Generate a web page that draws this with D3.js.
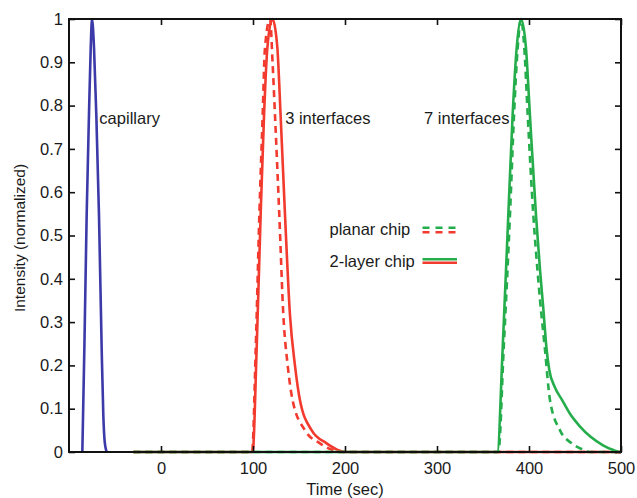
<!DOCTYPE html>
<html>
<head>
<meta charset="utf-8">
<script src="https://cdn.jsdelivr.net/npm/d3@7/dist/d3.min.js"></script>
<style>
  html, body { margin: 0; padding: 0; background: #fff; }
  svg { display: block; }
  text { font-family: "Liberation Sans", Arial, Helvetica, sans-serif; fill: #1a1a1a; }
</style>
</head>
<body>
<svg id="chart" width="637" height="498"></svg>
<script>
// ---- data ----
const xTicks = [0, 100, 200, 300, 400, 500];
const yTicks = [0, 0.1, 0.2, 0.3, 0.4, 0.5, 0.6, 0.7, 0.8, 0.9, 1];
const yTickLabels = ["0", "0.1", "0.2", "0.3", "0.4", "0.5", "0.6", "0.7", "0.8", "0.9", "1"];

const capillaryTime  = [-85.5, -83.3, -80.8, -78.3, -76.4, -75, -72.8, -70.3, -67.4, -64.5, -62.7, -61.2, -59];
const capillaryValue = [0, 0.24, 0.547, 0.778, 0.933, 1, 0.933, 0.778, 0.547, 0.24, 0.085, 0.024, 0];

const red2LayerTime  = [-30, 99.6, 104, 108.3, 112, 115.6, 121, 125, 126.5, 130, 134.8, 140.2, 145.6, 151, 163.8, 180, 192, 200, 500];
const red2LayerValue = [0, 0, 0.24, 0.547, 0.778, 0.933, 1, 0.965, 0.933, 0.778, 0.547, 0.316, 0.2, 0.12, 0.05, 0.02, 0.005, 0, 0];

const redPlanarTime  = [-30, 99, 103, 106.9, 110.5, 113, 118.5, 121.4, 123.9, 128.6, 133, 137.7, 143, 156.5, 172.8, 186, 195, 500];
const redPlanarValue = [0, 0, 0.24, 0.547, 0.778, 0.933, 1, 0.894, 0.778, 0.547, 0.316, 0.2, 0.12, 0.05, 0.02, 0.005, 0, 0];

const green2LayerTime  = [-30, 365.6, 371.4, 377.5, 382.2, 386.6, 391.3, 396.7, 401, 407.6, 412, 415.6, 419, 422, 428, 436, 444, 455, 467, 480, 491, 499, 500];
const green2LayerValue = [0, 0, 0.24, 0.547, 0.778, 0.933, 1, 0.933, 0.778, 0.547, 0.42, 0.33, 0.24, 0.19, 0.15, 0.12, 0.09, 0.06, 0.035, 0.016, 0.005, 0, 0];

const greenPlanarTime  = [-30, 366.7, 372.5, 379.3, 383.7, 387.7, 391.3, 394.9, 398.6, 404.7, 410, 412, 417.4, 422.8, 433.7, 446.4, 456, 466, 500];
const greenPlanarValue = [0, 0, 0.24, 0.547, 0.778, 0.933, 1, 0.933, 0.778, 0.547, 0.4, 0.351, 0.236, 0.12, 0.05, 0.02, 0.008, 0, 0];

const peakLabels = ["capillary", "3 interfaces", "7 interfaces"];
const peakLabelTimes = [-67, 135, 286];
const legendLabels = ["planar chip", "2-layer chip"];

// ---- layout ----
const svg = d3.select("#chart");
const pLeft = 69, pRight = 621, pTop = 19, pBottom = 452;
const x = d3.scaleLinear().domain([-100, 500]).range([pLeft, pRight]);
const y = d3.scaleLinear().domain([0, 1]).range([pBottom, pTop]);

const BLUE = "#3b3aa8", RED = "#f23a2e", GREEN = "#25ad4c";
const FONT = 16.5;

svg.append("defs").append("clipPath").attr("id", "plotclip")
  .append("rect").attr("x", pLeft).attr("y", pTop - 2).attr("width", pRight - pLeft).attr("height", pBottom - pTop + 4);

const line = d3.line().x(d => x(d[0])).y(d => y(d[1])).curve(d3.curveMonotoneX);
const zip = (a, b) => a.map((v, i) => [v, b[i]]);

const series = [
  { t: capillaryTime, v: capillaryValue, color: BLUE, dash: null },
  { t: redPlanarTime, v: redPlanarValue, color: RED, dash: "7,5" },
  { t: red2LayerTime, v: red2LayerValue, color: RED, dash: null },
  { t: greenPlanarTime, v: greenPlanarValue, color: GREEN, dash: "7,5" },
  { t: green2LayerTime, v: green2LayerValue, color: GREEN, dash: null }
];

const plot = svg.append("g").attr("clip-path", "url(#plotclip)");
series.forEach(s => {
  plot.append("path")
    .datum(zip(s.t, s.v))
    .attr("d", line)
    .attr("fill", "none")
    .attr("stroke", s.color)
    .attr("stroke-width", 2.6)
    .attr("stroke-linejoin", "round")
    .attr("stroke-dasharray", s.dash);
});

// ---- axes (ticks inward, mirrored on all sides) ----
const tickLen = 6;
const axisBottom = d3.axisBottom(x).tickValues(xTicks).tickSize(-tickLen).tickPadding(10).tickFormat(d3.format("d"));
const axisTop = d3.axisTop(x).tickValues(xTicks).tickSize(-tickLen).tickFormat("");
const axisLeft = d3.axisLeft(y).tickValues(yTicks).tickSize(-tickLen).tickPadding(6).tickFormat((d, i) => yTickLabels[i]);
const axisRight = d3.axisRight(y).tickValues(yTicks).tickSize(-tickLen).tickFormat("");

function styleAxis(g) {
  g.select(".domain").remove();
  g.selectAll(".tick line").attr("stroke", "#111").attr("stroke-width", 1.6);
  g.selectAll(".tick text").attr("font-size", FONT).attr("fill", "#1a1a1a")
    .attr("font-family", "'Liberation Sans', Arial, Helvetica, sans-serif");
}
svg.append("g").attr("transform", `translate(0,${pBottom})`).call(axisBottom).call(styleAxis);
svg.append("g").attr("transform", `translate(0,${pTop})`).call(axisTop).call(styleAxis);
svg.append("g").attr("transform", `translate(${pLeft},0)`).call(axisLeft).call(styleAxis);
svg.append("g").attr("transform", `translate(${pRight},0)`).call(axisRight).call(styleAxis);

svg.append("rect")
  .attr("x", pLeft).attr("y", pTop).attr("width", pRight - pLeft).attr("height", pBottom - pTop)
  .attr("fill", "none").attr("stroke", "#111").attr("stroke-width", 2);

// ---- axis titles ----
svg.append("text").attr("x", (pLeft + pRight) / 2).attr("y", 494.5)
  .attr("text-anchor", "middle").attr("font-size", FONT).text("Time (sec)");
svg.append("text").attr("transform", `translate(24.5,238) rotate(-90)`)
  .attr("text-anchor", "middle").attr("font-size", 15.5).text("Intensity (normalized)");

// ---- peak labels ----
peakLabels.forEach((lab, i) => {
  svg.append("text").attr("x", x(peakLabelTimes[i])).attr("y", 124)
    .attr("font-size", FONT).text(lab);
});

// ---- legend ----
const legX = 329.5, legLineX0 = 422.5, legLineX1 = 457;
const legendRows = [
  { label: legendLabels[0], y: 235, dash: "7,6", gy: 227.7, ry: 232.3 },
  { label: legendLabels[1], y: 267, dash: null, gy: 259.3, ry: 262.7 }
];
legendRows.forEach(r => {
  svg.append("text").attr("x", legX).attr("y", r.y)
    .attr("font-size", FONT).text(r.label);
  svg.append("line").attr("x1", legLineX0).attr("x2", legLineX1).attr("y1", r.gy).attr("y2", r.gy)
    .attr("stroke", GREEN).attr("stroke-width", 2.4).attr("stroke-dasharray", r.dash);
  svg.append("line").attr("x1", legLineX0).attr("x2", legLineX1).attr("y1", r.ry).attr("y2", r.ry)
    .attr("stroke", RED).attr("stroke-width", 2.4).attr("stroke-dasharray", r.dash);
});
</script>
</body>
</html>
